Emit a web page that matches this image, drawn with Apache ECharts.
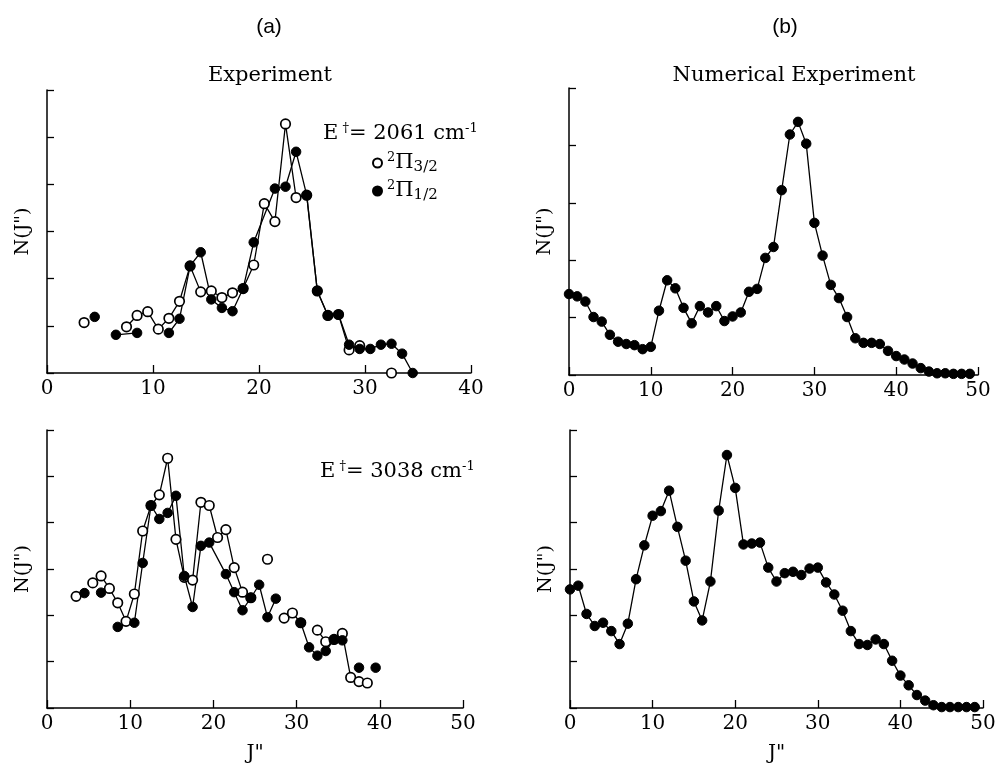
<!DOCTYPE html>
<html>
<head>
<meta charset="utf-8">
<script src="https://cdn.jsdelivr.net/npm/echarts@6/dist/echarts.min.js"></script>
<style>
html,body{margin:0;padding:0;background:#fff;}
#chart{width:999px;height:765px;}
</style>
</head>
<body>
<div id="chart"></div>
<script>
// ---------- DATA ----------
// Panel (a) top: Experiment, E = 2061 cm-1
const topA_openJ = [3.5, 4.5, 7.5, 8.5, 9.5, 10.5, 11.5, 12.5, 13.5, 14.5, 15.5, 16.5, 17.5, 18.5, 19.5, 20.5, 21.5, 22.5, 23.5, 24.5, 25.5, 26.5, 27.5, 28.5, 29.5, 30.5, 32.5];
const topA_openN = [1.07, null, 0.98, 1.22, 1.30, 0.93, 1.16, 1.52, 2.27, 1.72, 1.74, 1.60, 1.70, 1.79, 2.29, 3.59, 3.21, 5.28, 3.72, 3.77, 1.74, 1.22, 1.24, 0.49, 0.58, null, 0.0];
const topA_fillJ = [4.5, 5.5, 6.5, 8.5, 9.5, 11.5, 12.5, 13.5, 14.5, 15.5, 16.5, 17.5, 18.5, 19.5, 21.5, 22.5, 23.5, 24.5, 25.5, 26.5, 27.5, 28.5, 29.5, 30.5, 31.5, 32.5, 33.5, 34.5];
const topA_fillN = [1.19, null, 0.81, 0.85, null, 0.85, 1.15, 2.27, 2.56, 1.56, 1.38, 1.31, 1.79, 2.77, 3.91, 3.95, 4.69, 3.77, 1.74, 1.22, 1.24, 0.60, 0.51, 0.51, 0.60, 0.62, 0.41, 0.0];

// Panel (b) top: Numerical Experiment
const topB_J = [0,1,2,3,4,5,6,7,8,9,10,11,12,13,14,15,16,17,18,19,20,21,22,23,24,25,26,27,28,29,30,31,32,33,34,35,36,37,38,39,40,41,42,43,44,45,46,47,48,49];
const topB_N = [1.41,1.37,1.28,1.01,0.93,0.70,0.58,0.54,0.52,0.45,0.49,1.12,1.65,1.51,1.17,0.90,1.20,1.09,1.20,0.94,1.02,1.09,1.45,1.50,2.04,2.23,3.22,4.19,4.41,4.03,2.65,2.08,1.57,1.34,1.01,0.64,0.56,0.56,0.54,0.42,0.33,0.27,0.20,0.12,0.06,0.03,0.03,0.02,0.02,0.02];

// Panel (a) bottom: Experiment, E = 3038 cm-1
const botA_openJ = [3.5, 4.5, 5.5, 6.5, 7.5, 8.5, 9.5, 10.5, 11.5, 12.5, 13.5, 14.5, 15.5, 16.5, 17.5, 18.5, 19.5, 20.5, 21.5, 22.5, 23.5, 24.5, 25.5, 26.5, 27.5, 28.5, 29.5, 30.5, 31.5, 32.5, 33.5, 34.5, 35.5, 36.5, 37.5, 38.5];
const botA_openN = [2.41, null, 2.70, 2.85, 2.58, 2.27, 1.87, 2.46, 3.82, 4.37, 4.60, 5.39, 3.64, 2.82, 2.76, 4.44, 4.37, 3.68, 3.85, 3.03, 2.50, 2.38, null, 3.21, null, 1.94, 2.05, 1.84, null, 1.68, 1.43, 1.48, 1.61, 0.66, 0.57, 0.54];
const botA_fillJ = [4.5, 5.5, 6.5, 7.5, 8.5, 10.5, 11.5, 12.5, 13.5, 14.5, 15.5, 16.5, 17.5, 18.5, 19.5, 21.5, 22.5, 23.5, 24.5, 25.5, 26.5, 27.5, 28.5, 30.5, 31.5, 32.5, 33.5, 34.5, 35.5, 36.5, 37.5, 38.5, 39.5];
const botA_fillN = [2.48, null, 2.49, null, 1.75, 1.84, 3.13, 4.37, 4.08, 4.21, 4.58, 2.85, 2.18, 3.50, 3.57, 2.89, 2.50, 2.11, 2.38, 2.66, 1.96, 2.36, null, 1.84, 1.31, 1.13, 1.23, 1.48, 1.46, null, 0.87, null, 0.87];

// Panel (b) bottom: Numerical Experiment
const botB_J = [0,1,2,3,4,5,6,7,8,9,10,11,12,13,14,15,16,17,18,19,20,21,22,23,24,25,26,27,28,29,30,31,32,33,34,35,36,37,38,39,40,41,42,43,44,45,46,47,48,49];
const botB_N = [2.56,2.64,2.03,1.77,1.84,1.66,1.38,1.82,2.78,3.51,4.15,4.25,4.69,3.91,3.18,2.30,1.89,2.73,4.26,5.46,4.75,3.53,3.55,3.57,3.03,2.73,2.91,2.94,2.87,3.01,3.03,2.71,2.45,2.10,1.66,1.38,1.36,1.48,1.38,1.02,0.70,0.49,0.28,0.16,0.06,0.02,0.02,0.02,0.02,0.02];

const xTicksTopA = {min: 0, max: 40, interval: 10};
const xTicksOther = {min: 0, max: 50, interval: 10};

// ---------- CHART ----------
const SERIF = 'DejaVu Serif';
const SANS = 'Liberation Sans';
function pairs(J, N) { return J.map((j, i) => [j, N[i] === null ? '-' : N[i]]); }

const chart = echarts.init(document.getElementById('chart'), null, {renderer: 'canvas'});

const grids = [
  {left: 47, top: 90, width: 424, height: 283},
  {left: 569, top: 88, width: 409, height: 287},
  {left: 47, top: 430, width: 416, height: 280},
  {left: 570, top: 430, width: 413, height: 280}
];

function xAxis(gi, ticks, name) {
  return {
    type: 'value', gridIndex: gi, min: ticks.min, max: ticks.max, interval: ticks.interval,
    name: name || '', nameLocation: 'middle', nameGap: 36,
    nameTextStyle: {fontFamily: SERIF, fontSize: 20, color: '#000'},
    axisLine: {show: true, lineStyle: {color: '#000', width: 1.5}},
    axisTick: {show: true, inside: true, length: 8, lineStyle: {color: '#000', width: 1.3}},
    axisLabel: {show: true, margin: 6, fontFamily: SERIF, fontSize: 20, color: '#000'},
    splitLine: {show: false}
  };
}
function yAxis(gi, max) {
  return {
    type: 'value', gridIndex: gi, min: 0, max: max, interval: 1,
    name: 'N(J")', nameLocation: 'middle', nameGap: 14, nameRotate: 90,
    nameTextStyle: {fontFamily: SERIF, fontSize: 19, color: '#000'},
    axisLine: {show: true, lineStyle: {color: '#000', width: 1.5}},
    axisTick: {show: true, inside: true, length: 7, lineStyle: {color: '#000', width: 1.3}},
    axisLabel: {show: false},
    splitLine: {show: false}
  };
}

const openStyle = {color: '#fff', borderColor: '#000', borderWidth: 1.7};
const fillStyle = {color: '#000', borderColor: '#000', borderWidth: 1};
function ser(name, gi, data, style) {
  return {
    name: name, type: 'line', xAxisIndex: gi, yAxisIndex: gi, data: data,
    symbol: 'circle', symbolSize: 9.5, showSymbol: true, connectNulls: false,
    lineStyle: {color: '#000', width: 1.3},
    itemStyle: style, emphasis: {disabled: true}, silent: true, animation: false
  };
}

const legendRich = {
  sup: {fontFamily: SERIF, fontSize: 13, lineHeight: 13, verticalAlign: 'top', color: '#000'},
  big: {fontFamily: SERIF, fontSize: 21, lineHeight: 24, verticalAlign: 'middle', color: '#000'},
  sub: {fontFamily: SERIF, fontSize: 15, lineHeight: 15, verticalAlign: 'bottom', color: '#000'}
};
const eRich = {
  a: {fontFamily: SERIF, fontSize: 21, lineHeight: 24, verticalAlign: 'middle', color: '#000'},
  s: {fontFamily: SERIF, fontSize: 13, lineHeight: 13, verticalAlign: 'top', color: '#000'}
};

const option = {
  backgroundColor: '#fff',
  animation: false,
  grid: grids,
  xAxis: [xAxis(0, xTicksTopA), xAxis(1, xTicksOther), xAxis(2, xTicksOther, 'J"'), xAxis(3, xTicksOther, 'J"')],
  yAxis: [yAxis(0, 6), yAxis(1, 5), yAxis(2, 6), yAxis(3, 6)],
  legend: {
    show: true, orient: 'vertical', left: 367, top: 146, itemGap: 4,
    itemWidth: 9, itemHeight: 9, icon: 'circle', selectedMode: false,
    data: ['2Pi3/2', '2Pi1/2'],
    formatter: function (n) {
      return n === '2Pi3/2' ? '{sup|2}{big|Π}{sub|3/2}' : '{sup|2}{big|Π}{sub|1/2}';
    },
    textStyle: {rich: legendRich}
  },
  series: [
    ser('2Pi3/2', 0, pairs(topA_openJ, topA_openN), openStyle),
    ser('2Pi1/2', 0, pairs(topA_fillJ, topA_fillN), fillStyle),
    ser('numTop', 1, pairs(topB_J, topB_N), fillStyle),
    ser('open3038', 2, pairs(botA_openJ, botA_openN), openStyle),
    ser('fill3038', 2, pairs(botA_fillJ, botA_fillN), fillStyle),
    ser('numBot', 3, pairs(botB_J, botB_N), fillStyle)
  ],
  graphic: [
    {type: 'text', x: 269, y: 27, style: {text: '(a)', fontFamily: SANS, fontSize: 21, fill: '#000', align: 'center', verticalAlign: 'middle'}},
    {type: 'text', x: 785, y: 27, style: {text: '(b)', fontFamily: SANS, fontSize: 21, fill: '#000', align: 'center', verticalAlign: 'middle'}},
    {type: 'text', x: 270, y: 76, style: {text: 'Experiment', fontFamily: SERIF, fontSize: 21, fill: '#000', align: 'center', verticalAlign: 'middle'}},
    {type: 'text', x: 794, y: 76, style: {text: 'Numerical Experiment', fontFamily: SERIF, fontSize: 21, fill: '#000', align: 'center', verticalAlign: 'middle'}},
    {type: 'text', x: 323, y: 134, style: {text: '{a|E}{s| †}{a|= 2061 cm}{s|-1}', rich: eRich, align: 'left', verticalAlign: 'middle'}},
    {type: 'text', x: 320, y: 472, style: {text: '{a|E}{s| †}{a|= 3038 cm}{s|-1}', rich: eRich, align: 'left', verticalAlign: 'middle'}}
  ]
};
chart.setOption(option);
</script>
</body>
</html>
